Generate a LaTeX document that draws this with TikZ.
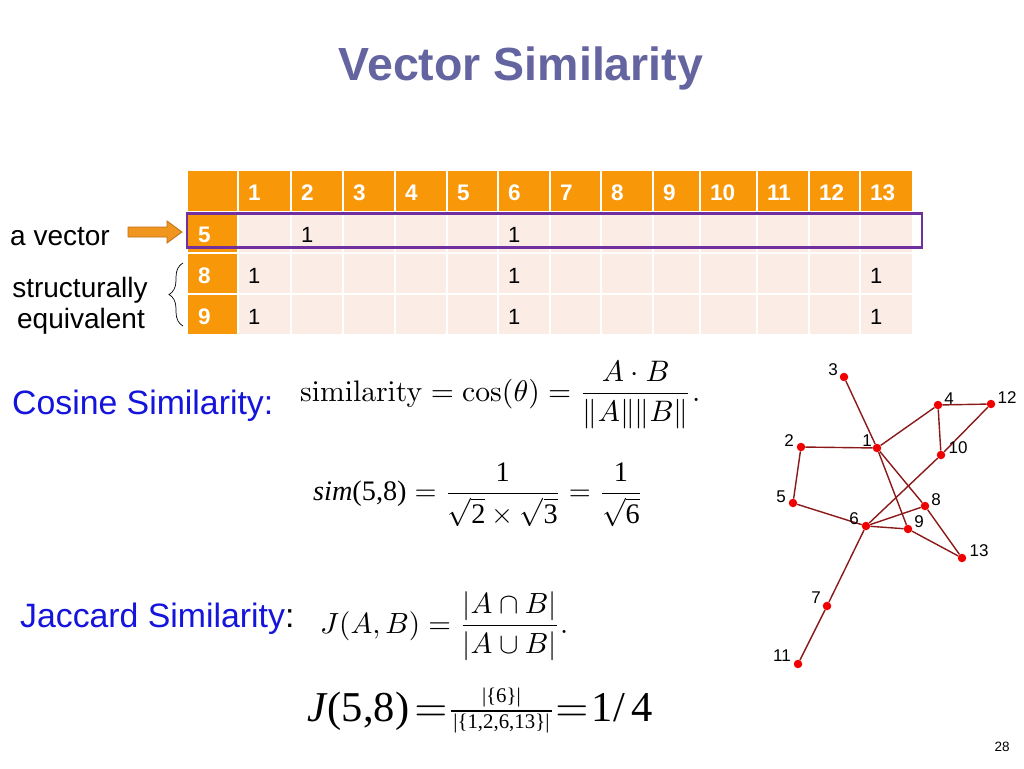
\documentclass[tikz,border=0pt]{standalone}
\usepackage[no-math]{fontspec}
\newfontfamily\arial{Liberation Sans}
\newfontfamily\tnr{Liberation Serif}
\usetikzlibrary{decorations.pathreplacing}
\definecolor{titlec}{RGB}{100,100,160}
\definecolor{hdr}{RGB}{248,152,8}
\definecolor{cellc}{RGB}{252,236,230}
\definecolor{purp}{RGB}{112,48,160}
\definecolor{linkblue}{RGB}{20,20,220}
\definecolor{edgec}{RGB}{140,25,25}
\definecolor{dotc}{RGB}{240,0,0}
\definecolor{arrfill}{RGB}{240,150,30}
\definecolor{arrdraw}{RGB}{190,110,20}
\newcommand{\smallfrac}[2]{\vcenter{\tnr\fontsize{4.9}{5.5}\selectfont\offinterlineskip\halign{\hfil##\hfil\cr\strut #1\cr\noalign{\kern0.2pt\hrule height 0.3pt\kern0.2pt}\strut\kern0.6pt #2\kern0.6pt\cr}}}
\tikzset{
  hdrtxt/.style={anchor=base west, inner sep=0, text=white, font=\arial\bfseries\fontsize{22.5}{26}\selectfont},
  celltxt/.style={anchor=base west, inner sep=0, text=black, font=\arial\fontsize{22}{26}\selectfont},
  sidetxt/.style={inner sep=0, text=black, font=\arial\fontsize{28}{32}\selectfont},
  bluetxt/.style={anchor=base west, inner sep=0, text=linkblue, font=\arial\fontsize{33.8}{38}\selectfont},
  formula/.style={anchor=west, inner sep=0},
  dot/.style={circle, fill=dotc, inner sep=0, minimum size=8.5pt},
  glabel/.style={inner sep=0, font=\arial\fontsize{17}{20}\selectfont},
  edge/.style={draw=edgec, line width=1.4pt},
}
\begin{document}
\begin{tikzpicture}[x=1pt,y=-1pt]
\useasboundingbox (0,0) rectangle (1024,768);
\fill[white] (0,0) rectangle (1024,768);

% title
\node[anchor=base, inner sep=0, text=titlec, font=\arial\bfseries\fontsize{46.5}{56}\selectfont] (title) at (521,80) {Vector Similarity};

% table
\fill[hdr] (188,171) rectangle (238,334);
\foreach \l/\r/\t [count=\i] in {238/291/1,291/343/2,343/395/3,395/447/4,447/498/5,498/550/6,550/601/7,601/653/8,653/700/9,700/757/10,757/809/11,809/860/12,860/912/13}{
  \fill[hdr] (\l,171) rectangle (\r,212);
  \fill[cellc] (\l,212) rectangle (\r,334);
  \node[hdrtxt] (h\i) at (\l+10,200) {\t};
}
\foreach \x in {238,291,343,395,447,498,550,601,653,700,757,809,860}
  \draw[white, line width=2pt] (\x,171) -- (\x,334);
\foreach \y in {212,253,294}
  \draw[white, line width=2pt] (188,\y) -- (912,\y);
\node[hdrtxt] (r5) at (198,242) {5};
\node[hdrtxt] (r8) at (198,283) {8};
\node[hdrtxt] (r9) at (198,324) {9};
\node[celltxt] (c52) at (301,242) {1};
\node[celltxt] (c56) at (508,242) {1};
\node[celltxt] (c81) at (248,283) {1};
\node[celltxt] (c86) at (508,283) {1};
\node[celltxt] (c813) at (870,283) {1};
\node[celltxt] (c91) at (248,324) {1};
\node[celltxt] (c96) at (508,324) {1};
\node[celltxt] (c913) at (870,324) {1};
\draw[purp, line width=2.6pt] (187,213.5) rectangle (922,247.5);

% side labels
\node[sidetxt, anchor=base west] (avec) at (10,245) {a vector};
\node[sidetxt, anchor=base] (st1) at (80,297) {structurally};
\node[sidetxt, anchor=base] (st2) at (81,328) {equivalent};
\draw[fill=arrfill, draw=arrdraw, line width=0.8pt]
  (128,227) -- (167,227) -- (167,221) -- (182,232) -- (167,243) -- (167,237) -- (128,237) -- cycle;
\draw[black, line width=0.7pt, decorate, decoration={brace, amplitude=14pt}] (183,326) -- (183,263);

% cosine
\node[bluetxt] (cos) at (12,414) {Cosine Similarity:};
\node[formula] (cosf) at (300,395) {\resizebox{400pt}{!}{$\displaystyle \mathrm{similarity} = \cos(\theta) = \frac{A\cdot B}{\|A\|\|B\|}.$}};
\node[formula] (simf) at (313,495) {\resizebox{330pt}{!}{$\displaystyle \hbox{\tnr{\itshape sim}(5,8)} = \frac{\hbox{\tnr 1}}{\sqrt{\hbox{\tnr 2}}\times\sqrt{\hbox{\tnr 3}}} = \frac{\hbox{\tnr 1}}{\sqrt{\hbox{\tnr 6}}}$}};

% jaccard
\node[bluetxt] (jac) at (20,627) {Jaccard Similarity\textcolor{black}{:}};
\node[formula] (jacf) at (320,626) {\resizebox{248pt}{!}{$\displaystyle J(A,B) = \frac{|A\cap B|}{|A\cup B|}.$}};
\node[formula] (jf) at (307,711) {\resizebox{346pt}{!}{$\hbox{\tnr{\itshape J}\kern0.4pt(5,8)}\kern1.2pt{=}\kern0.8pt\smallfrac{|\{6\}|}{|\{1,2,6,13\}|}\kern0.8pt{=}\kern0.8pt\hbox{\tnr 1/\,4}$}};

% graph
\node[dot] (g1) at (877,448) {};
\node[dot] (g2) at (801,447) {};
\node[dot] (g3) at (844,377) {};
\node[dot] (g4) at (938,405) {};
\node[dot] (g5) at (793,503) {};
\node[dot] (g6) at (866,526) {};
\node[dot] (g7) at (827,606) {};
\node[dot] (g8) at (925,506) {};
\node[dot] (g9) at (908,529) {};
\node[dot] (g10) at (941,455) {};
\node[dot] (g11) at (798,664) {};
\node[dot] (g12) at (991,404) {};
\node[dot] (g13) at (962,558) {};
\foreach \a/\b in {1/2,1/3,1/4,1/8,1/9,2/5,5/6,6/8,6/9,6/10,6/7,7/11,4/10,4/12,10/12,8/13,9/13}
  \draw[edge] (g\a) -- (g\b);
\node[glabel] (l1) at (867,441) {1};
\node[glabel] (l2) at (789,441) {2};
\node[glabel] (l3) at (833,370) {3};
\node[glabel] (l4) at (949,399) {4};
\node[glabel] (l5) at (781,497) {5};
\node[glabel] (l6) at (854,519) {6};
\node[glabel] (l7) at (816,598) {7};
\node[glabel] (l8) at (936,500) {8};
\node[glabel] (l9) at (919,522) {9};
\node[glabel] (l10) at (958,448) {10};
\node[glabel] (l11) at (782,656) {11};
\node[glabel] (l12) at (1007,398) {12};
\node[glabel] (l13) at (979,551) {13};

% page number
\node[anchor=base, inner sep=0, font=\arial\fontsize{13.5}{16}\selectfont] (pg) at (1002,751) {28};
\end{tikzpicture}
\end{document}
